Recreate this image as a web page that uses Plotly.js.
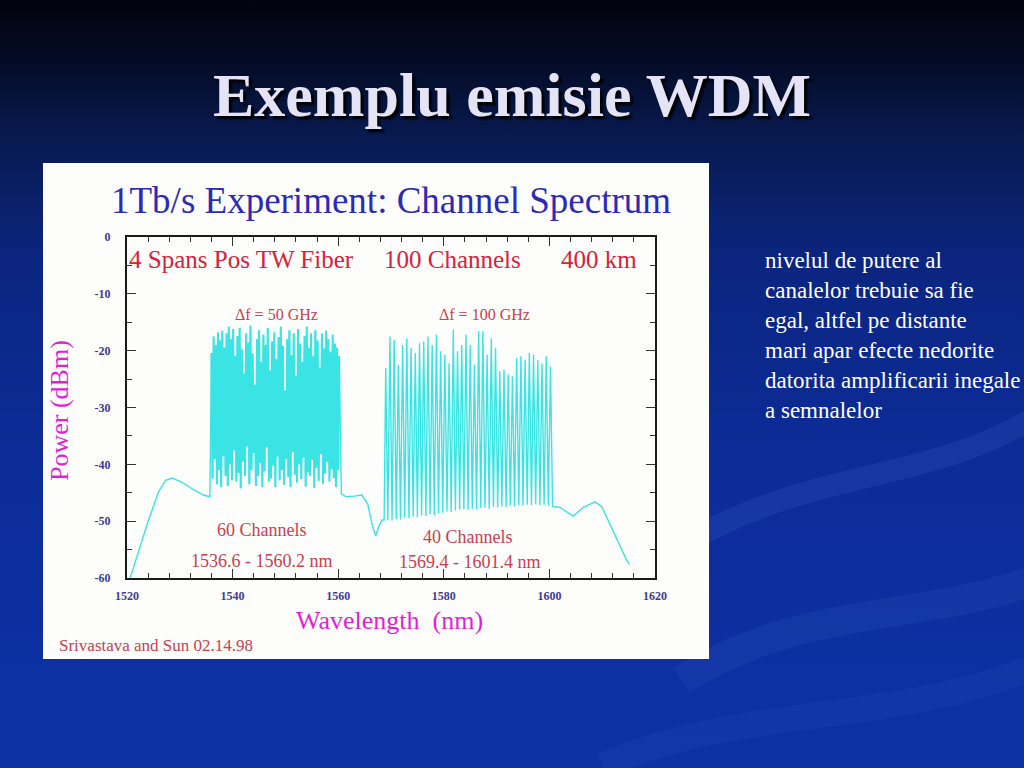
<!DOCTYPE html>
<html>
<head>
<meta charset="utf-8">
<script src="https://cdn.plot.ly/plotly-3.0.1.min.js"></script>
<style>
  html, body { margin:0; padding:0; width:1024px; height:768px; overflow:hidden;
    background: linear-gradient(to bottom, #01030c 0%, #030a22 7%, #081a50 18%, #0b2580 34%, #0c2c98 60%, #0d31a6 100%); }
  #chart { width:1024px; height:768px; }
</style>
</head>
<body>
<div id="chart"></div>
<script>
// ---- Data ----
// Baseline (ASE) before the 50 GHz band
const leftX = [1520.6, 1522.0, 1524.0, 1526.0, 1527.3, 1528.6, 1530.5, 1532.5, 1534.5, 1535.7];
const leftY = [-60.0, -56.0, -50.0, -44.8, -42.8, -42.4, -43.2, -44.4, -45.4, -45.7];

// 60 channels, 50 GHz spacing (labelled 1536.6 - 1560.2 nm)
const ch50X = [1536.00,1536.41,1536.82,1537.23,1537.64,1538.05,1538.46,1538.87,1539.28,1539.69,
               1540.10,1540.51,1540.92,1541.33,1541.74,1542.15,1542.56,1542.97,1543.38,1543.79,
               1544.20,1544.61,1545.02,1545.43,1545.84,1546.25,1546.66,1547.07,1547.48,1547.89,
               1548.30,1548.71,1549.12,1549.53,1549.94,1550.35,1550.76,1551.17,1551.58,1551.99,
               1552.40,1552.81,1553.22,1553.63,1554.04,1554.45,1554.86,1555.27,1555.68,1556.09,
               1556.50,1556.91,1557.32,1557.73,1558.14,1558.55,1558.96,1559.37,1559.78,1560.19];
const ch50Peak = [-20.4,-17.5,-19.0,-16.8,-18.2,-16.5,-19.5,-17.0,-15.8,-18.0,
                  -16.2,-21.0,-17.4,-16.0,-19.8,-24.0,-17.0,-18.6,-15.6,-20.5,
                  -26.0,-18.0,-16.4,-22.0,-17.2,-19.0,-16.0,-23.5,-18.4,-16.8,
                  -21.5,-17.6,-15.8,-19.2,-27.0,-18.0,-16.4,-20.8,-17.0,-24.5,
                  -16.2,-18.8,-22.0,-17.4,-15.8,-19.5,-17.0,-21.0,-16.4,-18.2,
                  -23.0,-17.0,-19.6,-16.5,-18.0,-20.2,-17.2,-18.8,-19.5,-21.0];
const ch50Valley = [-42.5,-39.0,-43.5,-41.0,-44.0,-38.5,-42.0,-43.8,-40.0,-42.8,
                    -37.5,-43.0,-41.5,-44.2,-39.5,-42.0,-36.8,-43.5,-41.0,-38.0,
                    -43.8,-42.0,-39.8,-44.0,-41.2,-37.0,-43.0,-42.5,-40.2,-44.0,
                    -38.6,-42.8,-41.0,-43.6,-39.0,-42.2,-44.0,-37.8,-41.8,-43.2,
                    -40.0,-42.6,-38.8,-43.9,-41.4,-42.0,-39.2,-44.1,-40.6,-42.9,
                    -38.2,-43.4,-41.6,-39.6,-43.0,-40.8,-42.4,-44.0,-41.0];

// Baseline between the two bands
const midX = [1560.6, 1561.5, 1563.0, 1564.5, 1565.6, 1566.4, 1567.1, 1567.7, 1568.3, 1568.7];
const midY = [-45.2, -45.7, -45.6, -45.4, -47.0, -50.5, -52.6, -50.9, -49.8, -49.8];

// 40 channels, 100 GHz spacing (labelled 1569.4 - 1601.4 nm)
const ch100X = [1569.0,1569.8,1570.6,1571.4,1572.2,1573.0,1573.8,1574.6,1575.4,1576.2,
                1577.0,1577.8,1578.6,1579.4,1580.2,1581.0,1581.8,1582.6,1583.4,1584.2,
                1585.0,1585.8,1586.6,1587.4,1588.2,1589.0,1589.8,1590.6,1591.4,1592.2,
                1593.0,1593.8,1594.6,1595.4,1596.2,1597.0,1597.8,1598.6,1599.4,1600.2];
const ch100Peak = [-23.0,-17.5,-18.1,-22.5,-19.0,-17.8,-19.5,-20.4,-18.7,-18.4,
                   -17.5,-19.0,-17.2,-20.1,-20.7,-22.2,-16.3,-20.1,-19.0,-17.2,
                   -19.0,-22.5,-16.6,-16.6,-20.7,-17.8,-19.5,-23.6,-23.3,-24.2,
                   -24.5,-21.3,-21.0,-21.6,-20.4,-20.7,-21.6,-22.2,-21.0,-22.8];
const ch100Valley = [-49.8,-49.9,-49.6,-49.7,-49.4,-49.5,-49.2,-49.3,-49.0,-49.1,
                     -48.8,-48.9,-48.6,-48.5,-48.3,-48.4,-48.1,-48.0,-47.9,-48.0,
                     -47.8,-47.9,-47.7,-47.6,-47.8,-47.5,-47.6,-47.4,-47.5,-47.3,
                     -47.4,-47.2,-47.3,-47.1,-47.2,-47.0,-47.2,-47.1,-47.3];

// Baseline after the 100 GHz band
const rightX = [1600.6, 1602.0, 1604.5, 1606.4, 1608.6, 1609.9, 1612.1, 1614.6, 1615.2];
const rightY = [-47.4, -47.6, -49.1, -47.6, -46.6, -47.4, -51.7, -56.8, -57.6];

// Axis ticks
const xTicks = [1520, 1540, 1560, 1580, 1600, 1620];
const yTicks = [0, -10, -20, -30, -40, -50, -60];

// ---- Build the spectrum traces from the arrays ----
const X = [], Y = [];
function pushAll(xa, ya, xs, ys) { for (let i = 0; i < xs.length; i++) { xa.push(xs[i]); ya.push(ys[i]); } }
function pushComb(xa, ya, cx, peaks, valleys) {
  for (let i = 0; i < cx.length; i++) {
    xa.push(cx[i]); ya.push(peaks[i]);
    if (i < valleys.length) { xa.push((cx[i] + cx[i + 1]) / 2); ya.push(valleys[i]); }
  }
}
pushAll(X, Y, leftX, leftY);
pushComb(X, Y, ch50X, ch50Peak, ch50Valley);
pushAll(X, Y, midX, midY);
pushComb(X, Y, ch100X, ch100Peak, ch100Valley);
pushAll(X, Y, rightX, rightY);

const X50 = [], Y50 = [];
pushComb(X50, Y50, ch50X, ch50Peak, ch50Valley);

const cyan = '#3be4e4';
const traces = [
  { x: X, y: Y, type: 'scatter', mode: 'lines', line: { color: cyan, width: 1.4 }, hoverinfo: 'skip' },
  { x: X50, y: Y50, type: 'scatter', mode: 'lines', line: { color: cyan, width: 2.0 }, hoverinfo: 'skip' }
];

const serif = 'Liberation Serif, Times New Roman, serif';
const red = '#d8213a';
const red2 = '#c9404f';

const annotations = [
  // slide title
  { xref:'paper', yref:'paper', x:0.729, y:1.416, xanchor:'center', yanchor:'middle',
    text:'Exemplu emisie WDM', showarrow:false,
    font:{ family: serif, size: 62, color:'#e4e4f6', weight: 700, shadow:'3px 3px 2px #000000' } },
  // right-hand text
  { xref:'paper', yref:'paper', x:1.2045, y:0.974, xanchor:'left', yanchor:'top', align:'left',
    text:'nivelul de putere al<br>canalelor trebuie sa fie<br>egal, altfel pe distante<br>mari apar efecte nedorite<br>datorita amplificarii inegale<br>a semnalelor',
    showarrow:false, font:{ family: serif, size: 23, color:'#ffffff' } },
  // chart title
  { xref:'paper', yref:'paper', x:0.5, y:1.1085, xanchor:'center', yanchor:'middle',
    text:'1Tb/s Experiment: Channel Spectrum', showarrow:false,
    font:{ family: serif, size: 37, color:'#2b2bb5' } },
  // axis titles
  { xref:'paper', yref:'paper', x:-0.1269, y:0.4927, xanchor:'center', yanchor:'middle', textangle:-90,
    text:'Power (dBm)', showarrow:false, font:{ family: serif, size: 26, color:'#e31fd6' } },
  { xref:'paper', yref:'paper', x:0.498, y:-0.126, xanchor:'center', yanchor:'middle',
    text:'Wavelength&nbsp; (nm)', showarrow:false, font:{ family: serif, size: 26, color:'#e31fd6' } },
  // footer
  { xref:'paper', yref:'paper', x:-0.1326, y:-0.1994, xanchor:'left', yanchor:'middle',
    text:'Srivastava and Sun 02.14.98', showarrow:false, font:{ family: serif, size: 17, color: red2 } },
  // in-plot labels
  { x:1520.0, y:-3.9, xanchor:'left', yanchor:'middle', text:'4 Spans Pos TW Fiber', showarrow:false,
    font:{ family: serif, size: 25, color: red } },
  { x:1581.6, y:-3.9, xanchor:'center', yanchor:'middle', text:'100 Channels', showarrow:false,
    font:{ family: serif, size: 25, color: red } },
  { x:1609.4, y:-3.9, xanchor:'center', yanchor:'middle', text:'400 km', showarrow:false,
    font:{ family: serif, size: 25, color: red } },
  { x:1548.4, y:-13.7, xanchor:'center', yanchor:'middle', text:'Δf = 50 GHz', showarrow:false,
    font:{ family: serif, size: 16, color: red2 } },
  { x:1587.8, y:-13.7, xanchor:'center', yanchor:'middle', text:'Δf = 100 GHz', showarrow:false,
    font:{ family: serif, size: 16, color: red2 } },
  { x:1545.6, y:-51.6, xanchor:'center', yanchor:'middle', text:'60 Channels', showarrow:false,
    font:{ family: serif, size: 18, color: red2 } },
  { x:1545.6, y:-57.0, xanchor:'center', yanchor:'middle', text:'1536.6 - 1560.2 nm', showarrow:false,
    font:{ family: serif, size: 18, color: red2 } },
  { x:1584.6, y:-52.8, xanchor:'center', yanchor:'middle', text:'40 Channels', showarrow:false,
    font:{ family: serif, size: 18, color: red2 } },
  { x:1585.0, y:-57.2, xanchor:'center', yanchor:'middle', text:'1569.4 - 1601.4 nm', showarrow:false,
    font:{ family: serif, size: 18, color: red2 } }
];

const shapes = [
  // faint swooshes in the slide background
  { type:'path', xref:'paper', yref:'paper', layer:'below',
    path:'M 1.0 0.05 C 1.3 0.35, 1.5 0.25, 1.75 0.5', line:{ color:'rgba(90,130,230,0.13)', width:22 } },
  { type:'path', xref:'paper', yref:'paper', layer:'below',
    path:'M 1.05 -0.3 C 1.3 -0.05, 1.55 -0.15, 1.8 0.05', line:{ color:'rgba(90,130,230,0.10)', width:30 } },
  { type:'path', xref:'paper', yref:'paper', layer:'below',
    path:'M 0.9 -0.55 C 1.2 -0.35, 1.5 -0.45, 1.8 -0.2', line:{ color:'rgba(90,130,230,0.08)', width:26 } },
  // white picture box
  { type:'rect', xref:'paper', yref:'paper', layer:'below',
    x0:-0.1591, x1:1.1023, y0:-0.2375, y1:1.217, fillcolor:'#fdfdfb', line:{ width:0 } }
];

const axisCommon = {
  showline:true, linecolor:'#1a1a1a', linewidth:2, mirror:'ticks',
  ticks:'inside', ticklen:9, tickwidth:1, tickcolor:'#333',
  showgrid:false, zeroline:false, fixedrange:true,
  tickfont:{ family: serif, size: 12, color:'#3c3c90', weight:700 }
};

const layout = {
  width:1024, height:768,
  margin:{ l:127, r:369, t:237, b:190 },
  paper_bgcolor:'rgba(0,0,0,0)', plot_bgcolor:'rgba(0,0,0,0)',
  showlegend:false,
  xaxis: Object.assign({}, axisCommon, {
    range:[1520, 1620], tickmode:'array', tickvals:xTicks, ticktext:xTicks.map(String),
    ticklabelstandoff: 6,
    minor:{ dtick:4, ticks:'inside', ticklen:5, tickcolor:'#333', showgrid:false }
  }),
  yaxis: Object.assign({}, axisCommon, {
    range:[-60, 0], tickmode:'array', tickvals:yTicks, ticktext:yTicks.map(String),
    ticklabelstandoff: 12,
    minor:{ dtick:5, ticks:'inside', ticklen:5, tickcolor:'#333', showgrid:false }
  }),
  annotations: annotations,
  shapes: shapes
};

Plotly.newPlot('chart', traces, layout, { displayModeBar:false, staticPlot:true });
</script>
</body>
</html>
